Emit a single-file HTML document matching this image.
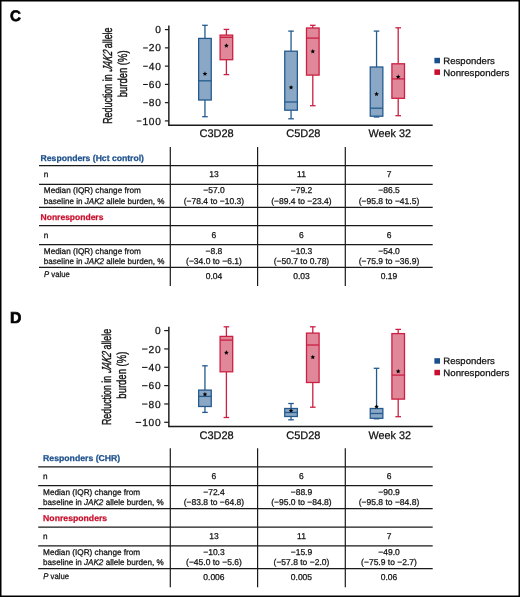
<!DOCTYPE html>
<html><head><meta charset="utf-8"><title>Figure</title>
<style>
html,body{margin:0;padding:0;background:#fff;}
body{width:520px;height:597px;overflow:hidden;}
svg{display:block;font-family:"Liberation Sans", sans-serif;text-rendering:geometricPrecision;will-change:transform;}
</style></head><body>
<svg width="520" height="597" viewBox="0 0 520 597">
<rect width="520" height="597" fill="#fff"/>
<line x1="168.85" y1="25.5" x2="168.85" y2="125.2" stroke="#1a1a1a" stroke-width="1.45"/>
<line x1="168.13" y1="125.2" x2="432.7" y2="125.2" stroke="#1a1a1a" stroke-width="1.45"/>
<line x1="164.9" y1="29.60" x2="168.85" y2="29.60" stroke="#1a1a1a" stroke-width="1.2"/>
<text x="160.90" y="33.20" font-size="10.2" text-anchor="end" fill="#111" stroke="#111" stroke-width="0.25" textLength="5.67" lengthAdjust="spacing">0</text>
<line x1="164.9" y1="47.86" x2="168.85" y2="47.86" stroke="#1a1a1a" stroke-width="1.2"/>
<text x="160.90" y="51.46" font-size="10.2" text-anchor="end" fill="#111" stroke="#111" stroke-width="0.25" textLength="12.07" lengthAdjust="spacing">20</text>
<line x1="143.13" y1="47.96" x2="147.83" y2="47.96" stroke="#111" stroke-width="1.05"/>
<line x1="164.9" y1="66.12" x2="168.85" y2="66.12" stroke="#1a1a1a" stroke-width="1.2"/>
<text x="160.90" y="69.72" font-size="10.2" text-anchor="end" fill="#111" stroke="#111" stroke-width="0.25" textLength="12.07" lengthAdjust="spacing">40</text>
<line x1="143.13" y1="66.22" x2="147.83" y2="66.22" stroke="#111" stroke-width="1.05"/>
<line x1="164.9" y1="84.38" x2="168.85" y2="84.38" stroke="#1a1a1a" stroke-width="1.2"/>
<text x="160.90" y="87.98" font-size="10.2" text-anchor="end" fill="#111" stroke="#111" stroke-width="0.25" textLength="12.07" lengthAdjust="spacing">60</text>
<line x1="143.13" y1="84.48" x2="147.83" y2="84.48" stroke="#111" stroke-width="1.05"/>
<line x1="164.9" y1="102.64" x2="168.85" y2="102.64" stroke="#1a1a1a" stroke-width="1.2"/>
<text x="160.90" y="106.24" font-size="10.2" text-anchor="end" fill="#111" stroke="#111" stroke-width="0.25" textLength="12.07" lengthAdjust="spacing">80</text>
<line x1="143.13" y1="102.74" x2="147.83" y2="102.74" stroke="#111" stroke-width="1.05"/>
<line x1="164.9" y1="120.90" x2="168.85" y2="120.90" stroke="#1a1a1a" stroke-width="1.2"/>
<text x="160.90" y="124.50" font-size="10.2" text-anchor="end" fill="#111" stroke="#111" stroke-width="0.25" textLength="18.47" lengthAdjust="spacing">100</text>
<line x1="136.73" y1="121.00" x2="141.43" y2="121.00" stroke="#111" stroke-width="1.05"/>
<text transform="translate(111.5,75.65) rotate(-90)" font-size="13" text-anchor="middle" fill="#111" stroke="#111" stroke-width="0.38" textLength="96.3" lengthAdjust="spacingAndGlyphs">Reduction in <tspan font-style="italic" fill="none" stroke="none">JAK2</tspan> allele</text>
<g transform="translate(111.5,75.65) rotate(-90)"><text transform="translate(3.6,0) skewX(-14)" x="0" y="0" font-size="13" font-style="italic" fill="#111" stroke="#111" stroke-width="0.38" textLength="20.8" lengthAdjust="spacingAndGlyphs">JAK2</text></g>
<text transform="translate(126.9,73.85) rotate(-90)" font-size="13" text-anchor="middle" fill="#111" stroke="#111" stroke-width="0.38" textLength="47" lengthAdjust="spacingAndGlyphs">burden (%)</text>
<text x="216.6" y="137.40" font-size="11" text-anchor="middle" font-weight="normal" fill="#111" stroke="#111" stroke-width="0.25" textLength="34.2" lengthAdjust="spacingAndGlyphs">C3D28</text>
<text x="303.35" y="137.40" font-size="11" text-anchor="middle" font-weight="normal" fill="#111" stroke="#111" stroke-width="0.25" textLength="34.3" lengthAdjust="spacingAndGlyphs">C5D28</text>
<text x="389.75" y="137.40" font-size="11" text-anchor="middle" font-weight="normal" fill="#111" stroke="#111" stroke-width="0.25" textLength="42.5" lengthAdjust="spacingAndGlyphs">Week 32</text>
<line x1="204.95" y1="25.3" x2="204.95" y2="38.4" stroke="#255a8e" stroke-width="1.3"/>
<line x1="204.95" y1="100" x2="204.95" y2="116.7" stroke="#255a8e" stroke-width="1.3"/>
<line x1="202.14999999999998" y1="25.3" x2="207.75" y2="25.3" stroke="#255a8e" stroke-width="1.3"/>
<line x1="202.14999999999998" y1="116.7" x2="207.75" y2="116.7" stroke="#255a8e" stroke-width="1.3"/>
<rect x="198.64999999999998" y="38.4" width="12.6" height="61.6" fill="#8aa8c5" stroke="#255a8e" stroke-width="1.3"/>
<line x1="198.64999999999998" y1="80.8" x2="211.25" y2="80.8" stroke="#255a8e" stroke-width="1.3"/>
<polygon points="204.95,71.30 205.61,72.89 207.33,73.03 206.02,74.15 206.42,75.82 204.95,74.92 203.48,75.82 203.88,74.15 202.57,73.03 204.29,72.89" fill="#000"/>
<line x1="226.4" y1="29.4" x2="226.4" y2="35.1" stroke="#cc1f42" stroke-width="1.3"/>
<line x1="226.4" y1="59.7" x2="226.4" y2="74.6" stroke="#cc1f42" stroke-width="1.3"/>
<line x1="223.6" y1="29.4" x2="229.20000000000002" y2="29.4" stroke="#cc1f42" stroke-width="1.3"/>
<line x1="223.6" y1="74.6" x2="229.20000000000002" y2="74.6" stroke="#cc1f42" stroke-width="1.3"/>
<rect x="220.1" y="35.1" width="12.6" height="24.6" fill="#e1879a" stroke="#cc1f42" stroke-width="1.3"/>
<line x1="220.1" y1="37.3" x2="232.70000000000002" y2="37.3" stroke="#cc1f42" stroke-width="1.3"/>
<polygon points="226.40,43.20 227.06,44.79 228.78,44.93 227.47,46.05 227.87,47.72 226.40,46.83 224.93,47.72 225.33,46.05 224.02,44.93 225.74,44.79" fill="#000"/>
<line x1="291.05" y1="31.1" x2="291.05" y2="51.2" stroke="#255a8e" stroke-width="1.3"/>
<line x1="291.05" y1="110.2" x2="291.05" y2="118.8" stroke="#255a8e" stroke-width="1.3"/>
<line x1="288.25" y1="31.1" x2="293.85" y2="31.1" stroke="#255a8e" stroke-width="1.3"/>
<line x1="288.25" y1="118.8" x2="293.85" y2="118.8" stroke="#255a8e" stroke-width="1.3"/>
<rect x="284.75" y="51.2" width="12.6" height="59.0" fill="#8aa8c5" stroke="#255a8e" stroke-width="1.3"/>
<line x1="284.75" y1="102" x2="297.35" y2="102" stroke="#255a8e" stroke-width="1.3"/>
<polygon points="291.05,84.90 291.71,86.49 293.43,86.63 292.12,87.75 292.52,89.42 291.05,88.53 289.58,89.42 289.98,87.75 288.67,86.63 290.39,86.49" fill="#000"/>
<line x1="312.8" y1="25.3" x2="312.8" y2="28" stroke="#cc1f42" stroke-width="1.3"/>
<line x1="312.8" y1="75.1" x2="312.8" y2="105.7" stroke="#cc1f42" stroke-width="1.3"/>
<line x1="310.0" y1="25.3" x2="315.6" y2="25.3" stroke="#cc1f42" stroke-width="1.3"/>
<line x1="310.0" y1="105.7" x2="315.6" y2="105.7" stroke="#cc1f42" stroke-width="1.3"/>
<rect x="306.5" y="28" width="12.6" height="47.099999999999994" fill="#e1879a" stroke="#cc1f42" stroke-width="1.3"/>
<line x1="306.5" y1="38.1" x2="319.1" y2="38.1" stroke="#cc1f42" stroke-width="1.3"/>
<polygon points="312.80,48.90 313.46,50.49 315.18,50.63 313.87,51.75 314.27,53.42 312.80,52.52 311.33,53.42 311.73,51.75 310.42,50.63 312.14,50.49" fill="#000"/>
<line x1="376.55" y1="31.1" x2="376.55" y2="67" stroke="#255a8e" stroke-width="1.3"/>
<line x1="376.55" y1="116.2" x2="376.55" y2="117" stroke="#255a8e" stroke-width="1.3"/>
<line x1="373.75" y1="31.1" x2="379.35" y2="31.1" stroke="#255a8e" stroke-width="1.3"/>
<line x1="373.75" y1="117" x2="379.35" y2="117" stroke="#255a8e" stroke-width="1.3"/>
<rect x="370.25" y="67" width="12.6" height="49.2" fill="#8aa8c5" stroke="#255a8e" stroke-width="1.3"/>
<line x1="370.25" y1="108.2" x2="382.85" y2="108.2" stroke="#255a8e" stroke-width="1.3"/>
<polygon points="376.55,91.60 377.21,93.19 378.93,93.33 377.62,94.45 378.02,96.12 376.55,95.22 375.08,96.12 375.48,94.45 374.17,93.33 375.89,93.19" fill="#000"/>
<line x1="398.2" y1="27.8" x2="398.2" y2="63.8" stroke="#cc1f42" stroke-width="1.3"/>
<line x1="398.2" y1="98.3" x2="398.2" y2="115.7" stroke="#cc1f42" stroke-width="1.3"/>
<line x1="395.4" y1="27.8" x2="401.0" y2="27.8" stroke="#cc1f42" stroke-width="1.3"/>
<line x1="395.4" y1="115.7" x2="401.0" y2="115.7" stroke="#cc1f42" stroke-width="1.3"/>
<rect x="391.9" y="63.8" width="12.6" height="34.5" fill="#e1879a" stroke="#cc1f42" stroke-width="1.3"/>
<line x1="391.9" y1="78.9" x2="404.5" y2="78.9" stroke="#cc1f42" stroke-width="1.3"/>
<polygon points="398.20,74.30 398.86,75.89 400.58,76.03 399.27,77.15 399.67,78.82 398.20,77.92 396.73,78.82 397.13,77.15 395.82,76.03 397.54,75.89" fill="#000"/>
<rect x="434.4" y="57.8" width="5.6" height="5.5" fill="#1b4f8b"/>
<rect x="434.4" y="69.39999999999999" width="5.6" height="5.5" fill="#c8102e"/>
<text x="443.3" y="63.80" font-size="9.2" text-anchor="start" font-weight="normal" fill="#111" stroke="#111" stroke-width="0.25" textLength="51.6" lengthAdjust="spacingAndGlyphs">Responders</text>
<text x="443.3" y="76.00" font-size="9.2" text-anchor="start" font-weight="normal" fill="#111" stroke="#111" stroke-width="0.25" textLength="66" lengthAdjust="spacingAndGlyphs">Nonresponders</text>
<line x1="168.85" y1="326.8" x2="168.85" y2="426.5" stroke="#1a1a1a" stroke-width="1.45"/>
<line x1="168.13" y1="426.5" x2="432.7" y2="426.5" stroke="#1a1a1a" stroke-width="1.45"/>
<line x1="164.20000000000002" y1="330.60" x2="168.85" y2="330.60" stroke="#1a1a1a" stroke-width="1.2"/>
<text x="160.60" y="334.20" font-size="10.2" text-anchor="end" fill="#111" stroke="#111" stroke-width="0.25" textLength="5.67" lengthAdjust="spacing">0</text>
<line x1="164.20000000000002" y1="348.94" x2="168.85" y2="348.94" stroke="#1a1a1a" stroke-width="1.2"/>
<text x="160.60" y="352.54" font-size="10.2" text-anchor="end" fill="#111" stroke="#111" stroke-width="0.25" textLength="12.07" lengthAdjust="spacing">20</text>
<line x1="142.03" y1="349.04" x2="147.53" y2="349.04" stroke="#111" stroke-width="1.05"/>
<line x1="164.20000000000002" y1="367.28" x2="168.85" y2="367.28" stroke="#1a1a1a" stroke-width="1.2"/>
<text x="160.60" y="370.88" font-size="10.2" text-anchor="end" fill="#111" stroke="#111" stroke-width="0.25" textLength="12.07" lengthAdjust="spacing">40</text>
<line x1="142.03" y1="367.38" x2="147.53" y2="367.38" stroke="#111" stroke-width="1.05"/>
<line x1="164.20000000000002" y1="385.62" x2="168.85" y2="385.62" stroke="#1a1a1a" stroke-width="1.2"/>
<text x="160.60" y="389.22" font-size="10.2" text-anchor="end" fill="#111" stroke="#111" stroke-width="0.25" textLength="12.07" lengthAdjust="spacing">60</text>
<line x1="142.03" y1="385.72" x2="147.53" y2="385.72" stroke="#111" stroke-width="1.05"/>
<line x1="164.20000000000002" y1="403.96" x2="168.85" y2="403.96" stroke="#1a1a1a" stroke-width="1.2"/>
<text x="160.60" y="407.56" font-size="10.2" text-anchor="end" fill="#111" stroke="#111" stroke-width="0.25" textLength="12.07" lengthAdjust="spacing">80</text>
<line x1="142.03" y1="404.06" x2="147.53" y2="404.06" stroke="#111" stroke-width="1.05"/>
<line x1="164.20000000000002" y1="422.30" x2="168.85" y2="422.30" stroke="#1a1a1a" stroke-width="1.2"/>
<text x="160.60" y="425.90" font-size="10.2" text-anchor="end" fill="#111" stroke="#111" stroke-width="0.25" textLength="18.47" lengthAdjust="spacing">100</text>
<line x1="135.63" y1="422.40" x2="141.13" y2="422.40" stroke="#111" stroke-width="1.05"/>
<text transform="translate(110.9,376.95) rotate(-90)" font-size="13" text-anchor="middle" fill="#111" stroke="#111" stroke-width="0.38" textLength="96.3" lengthAdjust="spacingAndGlyphs">Reduction in <tspan font-style="italic" fill="none" stroke="none">JAK2</tspan> allele</text>
<g transform="translate(110.9,376.95) rotate(-90)"><text transform="translate(3.6,0) skewX(-14)" x="0" y="0" font-size="13" font-style="italic" fill="#111" stroke="#111" stroke-width="0.38" textLength="20.8" lengthAdjust="spacingAndGlyphs">JAK2</text></g>
<text transform="translate(126.30000000000001,375.15) rotate(-90)" font-size="13" text-anchor="middle" fill="#111" stroke="#111" stroke-width="0.38" textLength="47" lengthAdjust="spacingAndGlyphs">burden (%)</text>
<text x="216.6" y="438.70" font-size="11" text-anchor="middle" font-weight="normal" fill="#111" stroke="#111" stroke-width="0.25" textLength="34.2" lengthAdjust="spacingAndGlyphs">C3D28</text>
<text x="303.35" y="438.70" font-size="11" text-anchor="middle" font-weight="normal" fill="#111" stroke="#111" stroke-width="0.25" textLength="34.3" lengthAdjust="spacingAndGlyphs">C5D28</text>
<text x="389.75" y="438.70" font-size="11" text-anchor="middle" font-weight="normal" fill="#111" stroke="#111" stroke-width="0.25" textLength="42.5" lengthAdjust="spacingAndGlyphs">Week 32</text>
<line x1="204.95" y1="365.8" x2="204.95" y2="390.1" stroke="#255a8e" stroke-width="1.3"/>
<line x1="204.95" y1="406.5" x2="204.95" y2="412.4" stroke="#255a8e" stroke-width="1.3"/>
<line x1="202.14999999999998" y1="365.8" x2="207.75" y2="365.8" stroke="#255a8e" stroke-width="1.3"/>
<line x1="202.14999999999998" y1="412.4" x2="207.75" y2="412.4" stroke="#255a8e" stroke-width="1.3"/>
<rect x="198.64999999999998" y="390.1" width="12.6" height="16.399999999999977" fill="#8aa8c5" stroke="#255a8e" stroke-width="1.3"/>
<line x1="198.64999999999998" y1="396.4" x2="211.25" y2="396.4" stroke="#255a8e" stroke-width="1.3"/>
<polygon points="204.95,391.80 205.61,393.39 207.33,393.53 206.02,394.65 206.42,396.32 204.95,395.43 203.48,396.32 203.88,394.65 202.57,393.53 204.29,393.39" fill="#000"/>
<line x1="226.4" y1="326.8" x2="226.4" y2="336.4" stroke="#cc1f42" stroke-width="1.3"/>
<line x1="226.4" y1="371.8" x2="226.4" y2="417.5" stroke="#cc1f42" stroke-width="1.3"/>
<line x1="223.6" y1="326.8" x2="229.20000000000002" y2="326.8" stroke="#cc1f42" stroke-width="1.3"/>
<line x1="223.6" y1="417.5" x2="229.20000000000002" y2="417.5" stroke="#cc1f42" stroke-width="1.3"/>
<rect x="220.1" y="336.4" width="12.6" height="35.400000000000034" fill="#e1879a" stroke="#cc1f42" stroke-width="1.3"/>
<line x1="220.1" y1="340.1" x2="232.70000000000002" y2="340.1" stroke="#cc1f42" stroke-width="1.3"/>
<polygon points="226.40,350.20 227.06,351.79 228.78,351.93 227.47,353.05 227.87,354.72 226.40,353.82 224.93,354.72 225.33,353.05 224.02,351.93 225.74,351.79" fill="#000"/>
<line x1="291.05" y1="403.5" x2="291.05" y2="408.5" stroke="#255a8e" stroke-width="1.3"/>
<line x1="291.05" y1="416.5" x2="291.05" y2="419.8" stroke="#255a8e" stroke-width="1.3"/>
<line x1="288.25" y1="403.5" x2="293.85" y2="403.5" stroke="#255a8e" stroke-width="1.3"/>
<line x1="288.25" y1="419.8" x2="293.85" y2="419.8" stroke="#255a8e" stroke-width="1.3"/>
<rect x="284.75" y="408.5" width="12.6" height="8.0" fill="#8aa8c5" stroke="#255a8e" stroke-width="1.3"/>
<line x1="284.75" y1="412.5" x2="297.35" y2="412.5" stroke="#255a8e" stroke-width="1.3"/>
<polygon points="291.05,408.20 291.71,409.79 293.43,409.93 292.12,411.05 292.52,412.72 291.05,411.82 289.58,412.72 289.98,411.05 288.67,409.93 290.39,409.79" fill="#000"/>
<line x1="312.8" y1="326.8" x2="312.8" y2="333.1" stroke="#cc1f42" stroke-width="1.3"/>
<line x1="312.8" y1="382.5" x2="312.8" y2="407.2" stroke="#cc1f42" stroke-width="1.3"/>
<line x1="310.0" y1="326.8" x2="315.6" y2="326.8" stroke="#cc1f42" stroke-width="1.3"/>
<line x1="310.0" y1="407.2" x2="315.6" y2="407.2" stroke="#cc1f42" stroke-width="1.3"/>
<rect x="306.5" y="333.1" width="12.6" height="49.39999999999998" fill="#e1879a" stroke="#cc1f42" stroke-width="1.3"/>
<line x1="306.5" y1="345" x2="319.1" y2="345" stroke="#cc1f42" stroke-width="1.3"/>
<polygon points="312.80,354.70 313.46,356.29 315.18,356.43 313.87,357.55 314.27,359.22 312.80,358.32 311.33,359.22 311.73,357.55 310.42,356.43 312.14,356.29" fill="#000"/>
<line x1="376.55" y1="368.3" x2="376.55" y2="408.5" stroke="#255a8e" stroke-width="1.3"/>
<line x1="376.55" y1="418.3" x2="376.55" y2="418.8" stroke="#255a8e" stroke-width="1.3"/>
<line x1="373.75" y1="368.3" x2="379.35" y2="368.3" stroke="#255a8e" stroke-width="1.3"/>
<line x1="373.75" y1="418.8" x2="379.35" y2="418.8" stroke="#255a8e" stroke-width="1.3"/>
<rect x="370.25" y="408.5" width="12.6" height="9.800000000000011" fill="#8aa8c5" stroke="#255a8e" stroke-width="1.3"/>
<line x1="370.25" y1="413.5" x2="382.85" y2="413.5" stroke="#255a8e" stroke-width="1.3"/>
<polygon points="376.55,404.20 377.21,405.79 378.93,405.93 377.62,407.05 378.02,408.72 376.55,407.82 375.08,408.72 375.48,407.05 374.17,405.93 375.89,405.79" fill="#000"/>
<line x1="398.2" y1="329.4" x2="398.2" y2="333.6" stroke="#cc1f42" stroke-width="1.3"/>
<line x1="398.2" y1="399.1" x2="398.2" y2="416.7" stroke="#cc1f42" stroke-width="1.3"/>
<line x1="395.4" y1="329.4" x2="401.0" y2="329.4" stroke="#cc1f42" stroke-width="1.3"/>
<line x1="395.4" y1="416.7" x2="401.0" y2="416.7" stroke="#cc1f42" stroke-width="1.3"/>
<rect x="391.9" y="333.6" width="12.6" height="65.5" fill="#e1879a" stroke="#cc1f42" stroke-width="1.3"/>
<line x1="391.9" y1="375.1" x2="404.5" y2="375.1" stroke="#cc1f42" stroke-width="1.3"/>
<polygon points="398.20,368.80 398.86,370.39 400.58,370.53 399.27,371.65 399.67,373.32 398.20,372.43 396.73,373.32 397.13,371.65 395.82,370.53 397.54,370.39" fill="#000"/>
<rect x="434.4" y="358.2" width="5.6" height="5.5" fill="#1b4f8b"/>
<rect x="434.4" y="369.8" width="5.6" height="5.5" fill="#c8102e"/>
<text x="443.3" y="364.20" font-size="9.2" text-anchor="start" font-weight="normal" fill="#111" stroke="#111" stroke-width="0.25" textLength="51.6" lengthAdjust="spacingAndGlyphs">Responders</text>
<text x="443.3" y="376.40" font-size="9.2" text-anchor="start" font-weight="normal" fill="#111" stroke="#111" stroke-width="0.25" textLength="66" lengthAdjust="spacingAndGlyphs">Nonresponders</text>
<line x1="39" y1="165.60" x2="432.7" y2="165.60" stroke="#1a1a1a" stroke-width="1.25"/>
<line x1="39" y1="184.30" x2="432.7" y2="184.30" stroke="#1a1a1a" stroke-width="1.25"/>
<line x1="39" y1="207.40" x2="432.7" y2="207.40" stroke="#1a1a1a" stroke-width="1.25"/>
<line x1="39" y1="225.70" x2="432.7" y2="225.70" stroke="#1a1a1a" stroke-width="1.25"/>
<line x1="39" y1="244.50" x2="432.7" y2="244.50" stroke="#1a1a1a" stroke-width="1.25"/>
<line x1="39" y1="267.40" x2="432.7" y2="267.40" stroke="#1a1a1a" stroke-width="1.25"/>
<line x1="170.3" y1="147.00" x2="170.3" y2="286.00" stroke="#1a1a1a" stroke-width="1.2"/>
<line x1="257.6" y1="147.00" x2="257.6" y2="286.00" stroke="#1a1a1a" stroke-width="1.2"/>
<line x1="345.3" y1="147.00" x2="345.3" y2="286.00" stroke="#1a1a1a" stroke-width="1.2"/>
<text x="40.6" y="161.00" font-size="8.5" text-anchor="start" font-weight="bold" fill="#1d508c" stroke="#1d508c" stroke-width="0.25" textLength="103.4" lengthAdjust="spacingAndGlyphs">Responders (Hct control)</text>
<text x="40.6" y="220.10" font-size="8.5" text-anchor="start" font-weight="bold" fill="#c8102e" stroke="#c8102e" stroke-width="0.25" textLength="62.8" lengthAdjust="spacingAndGlyphs">Nonresponders</text>
<text x="43.8" y="177.40" font-size="8.2" text-anchor="start" font-weight="normal" fill="#111" stroke="#111" stroke-width="0.25">n</text>
<text x="213.95" y="177.40" font-size="8.5" text-anchor="middle" font-weight="normal" fill="#111" stroke="#111" stroke-width="0.25">13</text>
<text x="301.45" y="177.40" font-size="8.5" text-anchor="middle" font-weight="normal" fill="#111" stroke="#111" stroke-width="0.25">11</text>
<text x="389.0" y="177.40" font-size="8.5" text-anchor="middle" font-weight="normal" fill="#111" stroke="#111" stroke-width="0.25">7</text>
<text x="43.8" y="193.40" font-size="8.2" text-anchor="start" font-weight="normal" fill="#111" stroke="#111" stroke-width="0.25" textLength="97.1" lengthAdjust="spacingAndGlyphs">Median (IQR) change from</text>
<text x="43.8" y="203.60" font-size="8.2" text-anchor="start" font-weight="normal" fill="#111" stroke="#111" stroke-width="0.25" textLength="120.6" lengthAdjust="spacingAndGlyphs">baseline in <tspan font-style="italic">JAK2</tspan> allele burden, %</text>
<text x="213.95" y="193.40" font-size="8.5" text-anchor="middle" font-weight="normal" fill="#111" stroke="#111" stroke-width="0.25">−57.0</text>
<text x="213.95" y="203.60" font-size="8.5" text-anchor="middle" font-weight="normal" fill="#111" stroke="#111" stroke-width="0.25">(−78.4 to −10.3)</text>
<text x="301.45" y="193.40" font-size="8.5" text-anchor="middle" font-weight="normal" fill="#111" stroke="#111" stroke-width="0.25">−79.2</text>
<text x="301.45" y="203.60" font-size="8.5" text-anchor="middle" font-weight="normal" fill="#111" stroke="#111" stroke-width="0.25">(−89.4 to −23.4)</text>
<text x="389.0" y="193.40" font-size="8.5" text-anchor="middle" font-weight="normal" fill="#111" stroke="#111" stroke-width="0.25">−86.5</text>
<text x="389.0" y="203.60" font-size="8.5" text-anchor="middle" font-weight="normal" fill="#111" stroke="#111" stroke-width="0.25">(−95.8 to −41.5)</text>
<text x="43.8" y="237.80" font-size="8.2" text-anchor="start" font-weight="normal" fill="#111" stroke="#111" stroke-width="0.25">n</text>
<text x="213.95" y="237.80" font-size="8.5" text-anchor="middle" font-weight="normal" fill="#111" stroke="#111" stroke-width="0.25">6</text>
<text x="301.45" y="237.80" font-size="8.5" text-anchor="middle" font-weight="normal" fill="#111" stroke="#111" stroke-width="0.25">6</text>
<text x="389.0" y="237.80" font-size="8.5" text-anchor="middle" font-weight="normal" fill="#111" stroke="#111" stroke-width="0.25">6</text>
<text x="43.8" y="253.80" font-size="8.2" text-anchor="start" font-weight="normal" fill="#111" stroke="#111" stroke-width="0.25" textLength="97.1" lengthAdjust="spacingAndGlyphs">Median (IQR) change from</text>
<text x="43.8" y="264.00" font-size="8.2" text-anchor="start" font-weight="normal" fill="#111" stroke="#111" stroke-width="0.25" textLength="120.6" lengthAdjust="spacingAndGlyphs">baseline in <tspan font-style="italic">JAK2</tspan> allele burden, %</text>
<text x="213.95" y="253.80" font-size="8.5" text-anchor="middle" font-weight="normal" fill="#111" stroke="#111" stroke-width="0.25">−8.8</text>
<text x="213.95" y="264.00" font-size="8.5" text-anchor="middle" font-weight="normal" fill="#111" stroke="#111" stroke-width="0.25">(−34.0 to −6.1)</text>
<text x="301.45" y="253.80" font-size="8.5" text-anchor="middle" font-weight="normal" fill="#111" stroke="#111" stroke-width="0.25">−10.3</text>
<text x="301.45" y="264.00" font-size="8.5" text-anchor="middle" font-weight="normal" fill="#111" stroke="#111" stroke-width="0.25">(−50.7 to 0.78)</text>
<text x="389.0" y="253.80" font-size="8.5" text-anchor="middle" font-weight="normal" fill="#111" stroke="#111" stroke-width="0.25">−54.0</text>
<text x="389.0" y="264.00" font-size="8.5" text-anchor="middle" font-weight="normal" fill="#111" stroke="#111" stroke-width="0.25">(−75.9 to −36.9)</text>
<text x="44.0" y="277.20" font-size="8.2" text-anchor="start" font-weight="normal" fill="#111" stroke="#111" stroke-width="0.25" textLength="25.8" lengthAdjust="spacingAndGlyphs"><tspan font-style="italic">P</tspan> value</text>
<text x="213.95" y="279.00" font-size="8.5" text-anchor="middle" font-weight="normal" fill="#111" stroke="#111" stroke-width="0.25">0.04</text>
<text x="301.45" y="279.00" font-size="8.5" text-anchor="middle" font-weight="normal" fill="#111" stroke="#111" stroke-width="0.25">0.03</text>
<text x="389.0" y="279.00" font-size="8.5" text-anchor="middle" font-weight="normal" fill="#111" stroke="#111" stroke-width="0.25">0.19</text>
<line x1="38.2" y1="466.90" x2="432.7" y2="466.90" stroke="#1a1a1a" stroke-width="1.25"/>
<line x1="38.2" y1="485.60" x2="432.7" y2="485.60" stroke="#1a1a1a" stroke-width="1.25"/>
<line x1="38.2" y1="508.70" x2="432.7" y2="508.70" stroke="#1a1a1a" stroke-width="1.25"/>
<line x1="38.2" y1="527.00" x2="432.7" y2="527.00" stroke="#1a1a1a" stroke-width="1.25"/>
<line x1="38.2" y1="545.80" x2="432.7" y2="545.80" stroke="#1a1a1a" stroke-width="1.25"/>
<line x1="38.2" y1="568.70" x2="432.7" y2="568.70" stroke="#1a1a1a" stroke-width="1.25"/>
<line x1="170.3" y1="448.30" x2="170.3" y2="587.30" stroke="#1a1a1a" stroke-width="1.2"/>
<line x1="257.6" y1="448.30" x2="257.6" y2="587.30" stroke="#1a1a1a" stroke-width="1.2"/>
<line x1="345.3" y1="448.30" x2="345.3" y2="587.30" stroke="#1a1a1a" stroke-width="1.2"/>
<text x="43.1" y="461.00" font-size="8.5" text-anchor="start" font-weight="bold" fill="#1d508c" stroke="#1d508c" stroke-width="0.25" textLength="77.1" lengthAdjust="spacingAndGlyphs">Responders (CHR)</text>
<text x="43.1" y="521.00" font-size="8.5" text-anchor="start" font-weight="bold" fill="#c8102e" stroke="#c8102e" stroke-width="0.25" textLength="64.1" lengthAdjust="spacingAndGlyphs">Nonresponders</text>
<text x="43.1" y="478.70" font-size="8.2" text-anchor="start" font-weight="normal" fill="#111" stroke="#111" stroke-width="0.25">n</text>
<text x="213.95" y="478.70" font-size="8.5" text-anchor="middle" font-weight="normal" fill="#111" stroke="#111" stroke-width="0.25">6</text>
<text x="301.45" y="478.70" font-size="8.5" text-anchor="middle" font-weight="normal" fill="#111" stroke="#111" stroke-width="0.25">6</text>
<text x="389.0" y="478.70" font-size="8.5" text-anchor="middle" font-weight="normal" fill="#111" stroke="#111" stroke-width="0.25">6</text>
<text x="43.1" y="494.70" font-size="8.2" text-anchor="start" font-weight="normal" fill="#111" stroke="#111" stroke-width="0.25" textLength="97.1" lengthAdjust="spacingAndGlyphs">Median (IQR) change from</text>
<text x="43.1" y="504.90" font-size="8.2" text-anchor="start" font-weight="normal" fill="#111" stroke="#111" stroke-width="0.25" textLength="120.6" lengthAdjust="spacingAndGlyphs">baseline in <tspan font-style="italic">JAK2</tspan> allele burden, %</text>
<text x="213.95" y="494.70" font-size="8.5" text-anchor="middle" font-weight="normal" fill="#111" stroke="#111" stroke-width="0.25">−72.4</text>
<text x="213.95" y="504.90" font-size="8.5" text-anchor="middle" font-weight="normal" fill="#111" stroke="#111" stroke-width="0.25">(−83.8 to −64.8)</text>
<text x="301.45" y="494.70" font-size="8.5" text-anchor="middle" font-weight="normal" fill="#111" stroke="#111" stroke-width="0.25">−88.9</text>
<text x="301.45" y="504.90" font-size="8.5" text-anchor="middle" font-weight="normal" fill="#111" stroke="#111" stroke-width="0.25">(−95.0 to −84.8)</text>
<text x="389.0" y="494.70" font-size="8.5" text-anchor="middle" font-weight="normal" fill="#111" stroke="#111" stroke-width="0.25">−90.9</text>
<text x="389.0" y="504.90" font-size="8.5" text-anchor="middle" font-weight="normal" fill="#111" stroke="#111" stroke-width="0.25">(−95.8 to −84.8)</text>
<text x="43.1" y="539.10" font-size="8.2" text-anchor="start" font-weight="normal" fill="#111" stroke="#111" stroke-width="0.25">n</text>
<text x="213.95" y="539.10" font-size="8.5" text-anchor="middle" font-weight="normal" fill="#111" stroke="#111" stroke-width="0.25">13</text>
<text x="301.45" y="539.10" font-size="8.5" text-anchor="middle" font-weight="normal" fill="#111" stroke="#111" stroke-width="0.25">11</text>
<text x="389.0" y="539.10" font-size="8.5" text-anchor="middle" font-weight="normal" fill="#111" stroke="#111" stroke-width="0.25">7</text>
<text x="43.1" y="555.10" font-size="8.2" text-anchor="start" font-weight="normal" fill="#111" stroke="#111" stroke-width="0.25" textLength="97.1" lengthAdjust="spacingAndGlyphs">Median (IQR) change from</text>
<text x="43.1" y="565.30" font-size="8.2" text-anchor="start" font-weight="normal" fill="#111" stroke="#111" stroke-width="0.25" textLength="120.6" lengthAdjust="spacingAndGlyphs">baseline in <tspan font-style="italic">JAK2</tspan> allele burden, %</text>
<text x="213.95" y="555.10" font-size="8.5" text-anchor="middle" font-weight="normal" fill="#111" stroke="#111" stroke-width="0.25">−10.3</text>
<text x="213.95" y="565.30" font-size="8.5" text-anchor="middle" font-weight="normal" fill="#111" stroke="#111" stroke-width="0.25">(−45.0 to −5.6)</text>
<text x="301.45" y="555.10" font-size="8.5" text-anchor="middle" font-weight="normal" fill="#111" stroke="#111" stroke-width="0.25">−15.9</text>
<text x="301.45" y="565.30" font-size="8.5" text-anchor="middle" font-weight="normal" fill="#111" stroke="#111" stroke-width="0.25">(−57.8 to −2.0)</text>
<text x="389.0" y="555.10" font-size="8.5" text-anchor="middle" font-weight="normal" fill="#111" stroke="#111" stroke-width="0.25">−49.0</text>
<text x="389.0" y="565.30" font-size="8.5" text-anchor="middle" font-weight="normal" fill="#111" stroke="#111" stroke-width="0.25">(−75.9 to −2.7)</text>
<text x="43.300000000000004" y="578.50" font-size="8.2" text-anchor="start" font-weight="normal" fill="#111" stroke="#111" stroke-width="0.25" textLength="25.8" lengthAdjust="spacingAndGlyphs"><tspan font-style="italic">P</tspan> value</text>
<text x="213.95" y="580.30" font-size="8.5" text-anchor="middle" font-weight="normal" fill="#111" stroke="#111" stroke-width="0.25">0.006</text>
<text x="301.45" y="580.30" font-size="8.5" text-anchor="middle" font-weight="normal" fill="#111" stroke="#111" stroke-width="0.25">0.005</text>
<text x="389.0" y="580.30" font-size="8.5" text-anchor="middle" font-weight="normal" fill="#111" stroke="#111" stroke-width="0.25">0.06</text>
<text x="9.9" y="21.0" font-size="15.2" text-anchor="start" font-weight="bold" fill="#000" stroke="#000" stroke-width="0.6">C</text>
<text x="9.9" y="323" font-size="15.8" text-anchor="start" font-weight="bold" fill="#000" stroke="#000" stroke-width="0.7">D</text>
<rect x="0" y="0" width="520" height="597" fill="none" stroke="#000" stroke-width="3"/>
</svg>
</body></html>
